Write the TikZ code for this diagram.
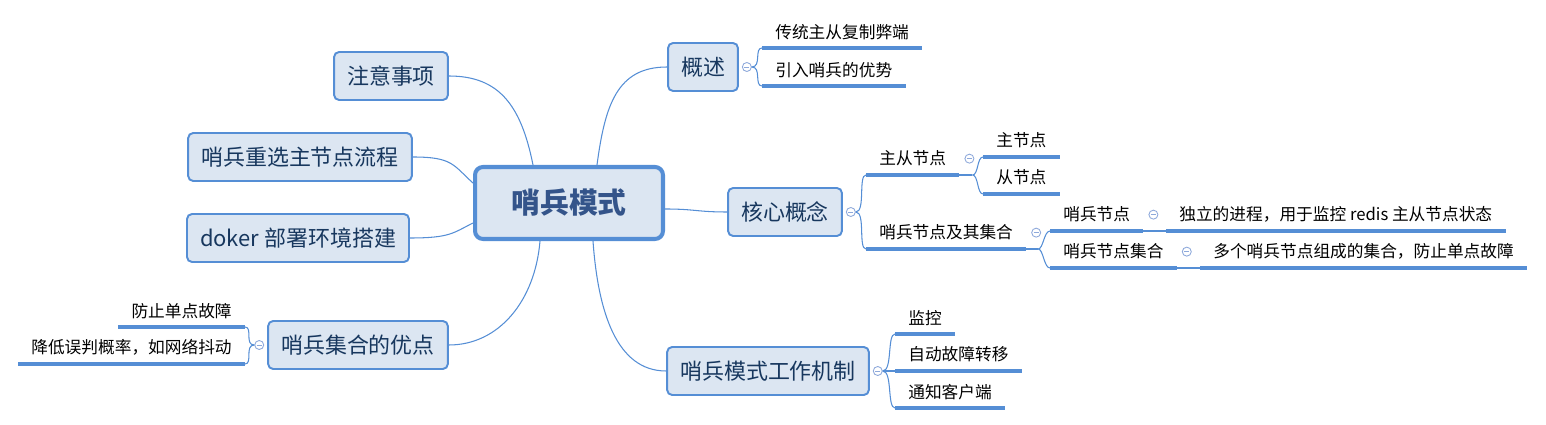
\documentclass[tikz,border=0pt]{standalone}
\usepackage{fontspec}
\setmainfont{Noto Sans CJK SC}
\usetikzlibrary{positioning}
\definecolor{mline}{RGB}{85,142,213}
\definecolor{mfill}{RGB}{220,230,242}
\definecolor{mtext}{RGB}{23,55,94}
\definecolor{rtext}{RGB}{52,84,138}
\definecolor{fline}{RGB}{142,169,219}
\begin{document}
\begin{tikzpicture}[x=.02cm, y=-.02cm,
	root/.style={draw=mline, fill=mfill, line width=2.3pt, rounded corners=.16cm, minimum width=3.76cm, minimum height=1.44cm, text=rtext, font=\bfseries\fontsize{16.4}{18}\selectfont},
	topic/.style={draw=mline, fill=mfill, line width=1.1pt, rounded corners=.1cm, minimum height=.96cm, inner xsep=.26cm, text=mtext, font=\fontsize{12.5}{14}\selectfont},
	leaf/.style={anchor=south west, minimum height=.64cm, inner xsep=.26cm, font=\fontsize{9.5}{11}\selectfont},
	rleaf/.style={leaf, anchor=south east},
	fold/.style={circle, draw=fline, fill=white, line width=.5pt, minimum size=.18cm, inner sep=0pt,
		path picture={\draw[fline, line width=.5pt] ([xshift=-.05cm]path picture bounding box.center) -- ([xshift=.05cm]path picture bounding box.center);}},
	branch/.style={draw=mline, line width=.6pt},
	uline/.style={draw=mline, line width=2pt}]
	\useasboundingbox (0,0) rectangle (1546,425);
	% main topics
	\node[root]  (root)      at (569,203) {哨兵模式};
	\node[topic] (gaishu)    at (703,67)  {概述};
	\node[topic] (zhuyi)     at (391,76)  {注意事项};
	\node[topic] (chongxuan) at (300,157) {哨兵重选主节点流程};
	\node[topic] (doker)     at (298,238) {doker 部署环境搭建};
	\node[topic] (youdian)   at (358,345) {哨兵集合的优点};
	\node[topic] (hexin)     at (785,212) {核心概念};
	\node[topic] (jizhi)     at (768,371) {哨兵模式工作机制};
	\draw[branch] ([xshift=.56cm]root.north)  .. controls +(8,-60)  and +(-50,0) .. (gaishu.west);
	\draw[branch] ([xshift=-.72cm]root.north) .. controls +(-12,-60) and +(50,0) .. (zhuyi.east);
	\draw[branch] ([yshift=.4cm]root.west)    .. controls +(-20,-18) and +(40,0) .. (chongxuan.east);
	\draw[branch] ([yshift=-.4cm]root.west)   .. controls +(-20,10)  and +(40,0) .. (doker.east);
	\draw[branch] ([xshift=-.58cm]root.south) .. controls +(-5,60)   and +(50,0) .. (youdian.east);
	\draw[branch] ([xshift=.48cm]root.south)  .. controls +(5,70)    and +(-50,0) .. (jizhi.west);
	\draw[branch] ([yshift=-.12cm]root.east)  .. controls +(30,0)    and +(-30,0) .. (hexin.west);
	% gaishu
	\node[fold, right=.06cm of gaishu] (f-gaishu) {};
	\node[leaf] (chuantong) at (762,48) {传统主从复制弊端};
	\node[leaf] (yinru)     at (762,86) {引入哨兵的优势};
	\draw[branch] (f-gaishu.east) .. controls +(10,0) and +(-8,0) .. (chuantong.south west);
	\draw[branch] (f-gaishu.east) .. controls +(10,0) and +(-8,0) .. (yinru.south west);
	\draw[uline] (chuantong.south west) -- (chuantong.south east);
	\draw[uline] (yinru.south west) -- (yinru.south east);
	% hexin
	\node[fold, right=.06cm of hexin] (f-hexin) {};
	\node[leaf] (zhucong) at (866,175) {主从节点};
	\node[leaf] (sbjihe)  at (866,249) {哨兵节点及其集合};
	\draw[branch] (f-hexin.east) .. controls +(10,0) and +(-8,0) .. (zhucong.south west);
	\draw[branch] (f-hexin.east) .. controls +(10,0) and +(-8,0) .. (sbjihe.south west);
	\draw[uline] (zhucong.south west) -- (zhucong.south east);
	\draw[uline] (sbjihe.south west) -- (sbjihe.south east);
	\node[fold, right=.1cm of zhucong] (f-zhucong) {};
	\node[leaf] (zhujie)  at (983,157) {主节点};
	\node[leaf] (congjie) at (983,194) {从节点};
	\draw[branch] (zhucong.south east) -- ++(13,0) coordinate (s-zhucong);
	\draw[branch] (s-zhucong) .. controls +(6,0) and +(-6,0) .. (zhujie.south west);
	\draw[branch] (s-zhucong) .. controls +(6,0) and +(-6,0) .. (congjie.south west);
	\draw[uline] (zhujie.south west) -- (zhujie.south east);
	\draw[uline] (congjie.south west) -- (congjie.south east);
	\node[fold, right=.1cm of sbjihe] (f-sbjihe) {};
	\node[leaf] (shaobing) at (1050,231) {哨兵节点};
	\node[leaf] (sbjh)     at (1050,268) {哨兵节点集合};
	\draw[branch] (sbjihe.south east) -- ++(12,0) coordinate (s-sbjihe);
	\draw[branch] (s-sbjihe) .. controls +(5,0) and +(-6,0) .. (shaobing.south west);
	\draw[branch] (s-sbjihe) .. controls +(5,0) and +(-6,0) .. (sbjh.south west);
	\draw[uline] (shaobing.south west) -- (shaobing.south east);
	\draw[uline] (sbjh.south west) -- (sbjh.south east);
	\node[fold, right=.1cm of shaobing] (f-shaobing) {};
	\node[leaf] (duli) at (1166,231) {独立的进程，用于监控 redis 主从节点状态};
	\draw[branch] (shaobing.south east) -- (duli.south west);
	\draw[uline] (duli.south west) -- (duli.south east);
	\node[fold, right=.1cm of sbjh] (f-sbjh) {};
	\node[leaf] (duoge) at (1200,268) {多个哨兵节点组成的集合，防止单点故障};
	\draw[branch] (sbjh.south east) -- (duoge.south west);
	\draw[uline] (duoge.south west) -- (duoge.south east);
	% jizhi
	\node[fold, right=.06cm of jizhi] (f-jizhi) {};
	\node[leaf] (jiankong) at (895,334) {监控};
	\node[leaf] (zidong)   at (895,371) {自动故障转移};
	\node[leaf] (tongzhi)  at (895,408) {通知客户端};
	\draw[branch] (f-jizhi.east) .. controls +(10,0) and +(-8,0) .. (jiankong.south west);
	\draw[branch] (f-jizhi.east) -- (zidong.south west);
	\draw[branch] (f-jizhi.east) .. controls +(10,0) and +(-8,0) .. (tongzhi.south west);
	\draw[uline] (jiankong.south west) -- (jiankong.south east);
	\draw[uline] (zidong.south west) -- (zidong.south east);
	\draw[uline] (tongzhi.south west) -- (tongzhi.south east);
	% youdian
	\node[fold, left=.06cm of youdian] (f-youdian) {};
	\node[rleaf] (fangzhi) at (245,327) {防止单点故障};
	\node[rleaf] (jiangdi) at (245,364) {降低误判概率，如网络抖动};
	\draw[branch] (f-youdian.west) .. controls +(-10,0) and +(8,0) .. (fangzhi.south east);
	\draw[branch] (f-youdian.west) .. controls +(-10,0) and +(8,0) .. (jiangdi.south east);
	\draw[uline] (fangzhi.south west) -- (fangzhi.south east);
	\draw[uline] (jiangdi.south west) -- (jiangdi.south east);
\end{tikzpicture}
\end{document}
